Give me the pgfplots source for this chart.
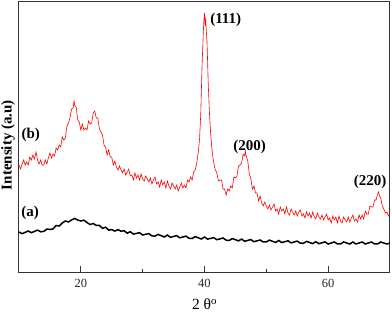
\documentclass[border=0pt]{standalone}
\usepackage{fontspec}
\setmainfont{Liberation Serif}
\usepackage{pgfplots}
\pgfplotsset{compat=1.18}
\begin{document}
\begin{tikzpicture}
\begin{axis}[name=ax, at={(0,0)}, anchor=south west,
  scale only axis, width=371pt, height=271pt,
  xmin=10, xmax=70, ymin=0, ymax=271,
  xtick={20,40,60}, minor xtick={30,50}, ytick=\empty,
  xtick pos=left, tick align=inside,
  major tick length=7pt, minor tick length=4pt,
  axis line style={line width=1pt, black!80},
  every tick/.style={black!80, line width=0.8pt},
  /pgf/number format/assume math mode=true,
  ticklabel style={font=\fontsize{12.5}{14}\selectfont, text=black!85},
  xticklabel style={yshift=-3pt},
  xlabel={2 θ\textsuperscript{o}},
  xlabel style={font=\fontsize{15.5}{17}\selectfont, at={(axis description cs:0.5,0)}, anchor=center, yshift=-31pt},
  ylabel={\textbf{Intensity (a.u)}},
  ylabel style={font=\fontsize{15}{17}\selectfont, at={(axis description cs:0,0.472)}, anchor=center, yshift=11pt},
  clip=true,
]
\addplot[red, line width=0.6pt] table {
10.00 108
10.25 104
10.50 109
10.75 113
11.00 108
11.25 111
11.50 108
11.75 116
12.00 113
12.25 118
12.50 114
12.75 121
13.00 113
13.25 109
13.50 113
13.75 108
14.00 108
14.25 113
14.50 109
14.75 115
15.00 120
15.25 115
15.50 119
15.75 117
16.00 125
16.25 123
16.50 128
16.75 126
17.00 136
17.25 133
17.50 135
17.75 147
18.00 150
18.25 155
18.50 164
18.75 165
18.90 172
19.00 168
19.25 166
19.50 153
19.75 151
20.00 143
20.25 149
20.50 143
20.75 145
21.00 143
21.25 152
21.50 149
21.75 150
22.00 160
22.25 162
22.50 155
22.75 155
23.00 144
23.25 141
23.50 138
23.75 128
24.00 126
24.25 118
24.50 123
24.75 116
25.00 116
25.25 108
25.50 112
25.75 106
26.00 103
26.25 107
26.50 103
26.75 100
27.00 104
27.25 98
27.50 101
27.75 104
28.00 97
28.25 98
28.50 93
28.75 100
29.00 95
29.25 98
29.50 93
29.75 99
30.00 94
30.25 92
30.50 97
30.75 94
31.00 91
31.25 95
31.50 89
31.75 93
32.00 96
32.25 89
32.50 91
32.75 86
33.00 93
33.25 88
33.50 91
33.75 85
34.00 92
34.25 87
34.50 84
34.75 90
35.00 87
35.25 84
35.50 88
35.75 82
36.00 86
36.25 90
36.50 85
36.75 88
37.00 85
37.25 93
37.50 91
37.75 96
38.00 93
38.25 101
38.50 103
38.75 110
39.00 121
39.20 134
39.40 160
39.60 206
39.80 240
39.90 252
40.00 260
40.10 249
40.20 253
40.30 241
40.40 232
40.50 212
40.60 190
40.80 160
41.00 139
41.20 124
41.40 114
41.70 104
42.00 100
42.25 92
42.50 93
42.75 93
43.00 84
43.25 84
43.50 78
43.75 84
44.00 82
44.25 87
44.50 85
44.75 96
45.00 95
45.25 97
45.50 107
45.75 108
46.00 110
46.25 119
46.50 117
46.60 122
46.75 117
47.00 112
47.25 99
47.50 94
47.75 84
48.00 87
48.25 80
48.50 80
48.75 72
49.00 77
49.25 70
49.50 67
49.75 71
50.00 67
50.25 64
50.50 68
50.75 63
51.00 66
51.25 69
51.50 62
51.75 64
52.00 59
52.25 66
52.50 62
52.75 64
53.00 59
53.25 66
53.50 60
53.75 58
54.00 64
54.25 61
54.50 58
54.75 62
55.00 57
55.25 61
55.50 63
55.75 57
56.00 59
56.25 55
56.50 61
56.75 57
57.00 60
57.25 55
57.50 61
57.75 56
58.00 54
58.25 60
58.50 56
58.75 54
59.00 58
59.25 53
59.50 56
59.75 59
60.00 53
60.25 55
60.50 50
60.75 57
61.00 53
61.25 56
61.50 50
61.75 57
62.00 52
62.25 50
62.50 56
62.75 53
63.00 51
63.25 56
63.50 51
63.75 55
64.00 58
64.25 52
64.50 54
64.75 51
65.00 58
65.25 54
65.50 58
65.75 54
66.00 62
66.25 59
66.50 59
66.75 67
67.00 66
67.25 66
67.50 73
67.75 73
68.00 79
68.15 81
68.30 77
68.50 75
68.75 67
69.00 64
69.25 60
69.50 61
69.75 57
70.00 59
};
\addplot[black, line width=1.5pt] table {
10.0 41
10.5 39.3
11.0 40.6
11.5 42
12.0 40.3
12.5 41.6
13.0 42.9
13.5 41.2
14.0 41.6
14.5 43.9
15.0 43.6
15.5 44
16.0 47.5
16.5 47
17.0 50
17.5 52
18.0 51
18.5 53
19.0 54.5
19.5 53
20.0 52
20.5 52.8
21.0 50.5
21.5 48.4
22.0 49.5
22.5 47.6
23.0 47.6
23.5 44.7
24.0 45.8
24.5 42.9
25.0 43.4
25.5 41.9
26.0 43.4
26.5 41.8
27.0 42.3
27.5 39.8
28.0 41.3
28.5 38.9
29.0 39.6
29.5 40.3
30.0 38
30.5 38.7
31.0 39.4
31.5 37.1
32.0 36.9
32.5 38.6
33.0 37.3
33.5 36
34.0 37.9
34.5 35.7
35.0 36.5
35.5 37.4
36.0 35.2
36.5 36
37.0 36.9
37.5 34.7
38.0 34.5
38.5 36.4
39.0 35.2
39.5 34
40.0 36
40.5 33.9
41.0 34.6
41.5 35.4
42.0 33.3
42.5 34.1
43.0 35
43.5 32.8
44.0 32.6
44.5 34.4
45.0 33.3
45.5 32.1
46.0 33.9
46.5 31.7
47.0 32.6
47.5 33.4
48.0 31.3
48.5 32.2
49.0 33
49.5 31
50.0 31
50.5 32.9
51.0 31.7
51.5 30.6
52.0 32.5
52.5 30.4
53.0 31.3
53.5 32.2
54.0 30.1
54.5 31
55.0 31.9
55.5 29.8
56.0 29.7
56.5 31.6
57.0 30.5
57.5 29.4
58.0 31.3
58.5 29.3
59.0 30.2
59.5 31.1
60.0 29
60.5 30
61.0 31
61.5 29
62.0 29
62.5 31
63.0 30
63.5 29
64.0 31
64.5 29
65.0 30
65.5 31
66.0 29
66.5 30
67.0 31
67.5 29
68.0 29
68.5 31
69.0 30
69.5 29
70.0 30
};
\node[font=\fontsize{15}{17}\selectfont\bfseries, anchor=west, inner sep=0pt] at (axis cs:40.9,253) {(111)};
\node[font=\fontsize{15}{17}\selectfont\bfseries, inner sep=0pt] at (axis cs:47.3,126) {(200)};
\node[font=\fontsize{15}{17}\selectfont\bfseries, inner sep=0pt] at (axis cs:66.8,91) {(220)};
\node[font=\fontsize{15}{17}\selectfont\bfseries, inner sep=0pt] at (axis cs:11.9,138) {(b)};
\node[font=\fontsize{15}{17}\selectfont\bfseries, inner sep=0pt] at (axis cs:11.8,60) {(a)};
\end{axis}
\pgfresetboundingbox
\path (ax.south west) ++(-19pt,-39pt) rectangle ++(392pt,312pt);
\end{tikzpicture}
\end{document}
